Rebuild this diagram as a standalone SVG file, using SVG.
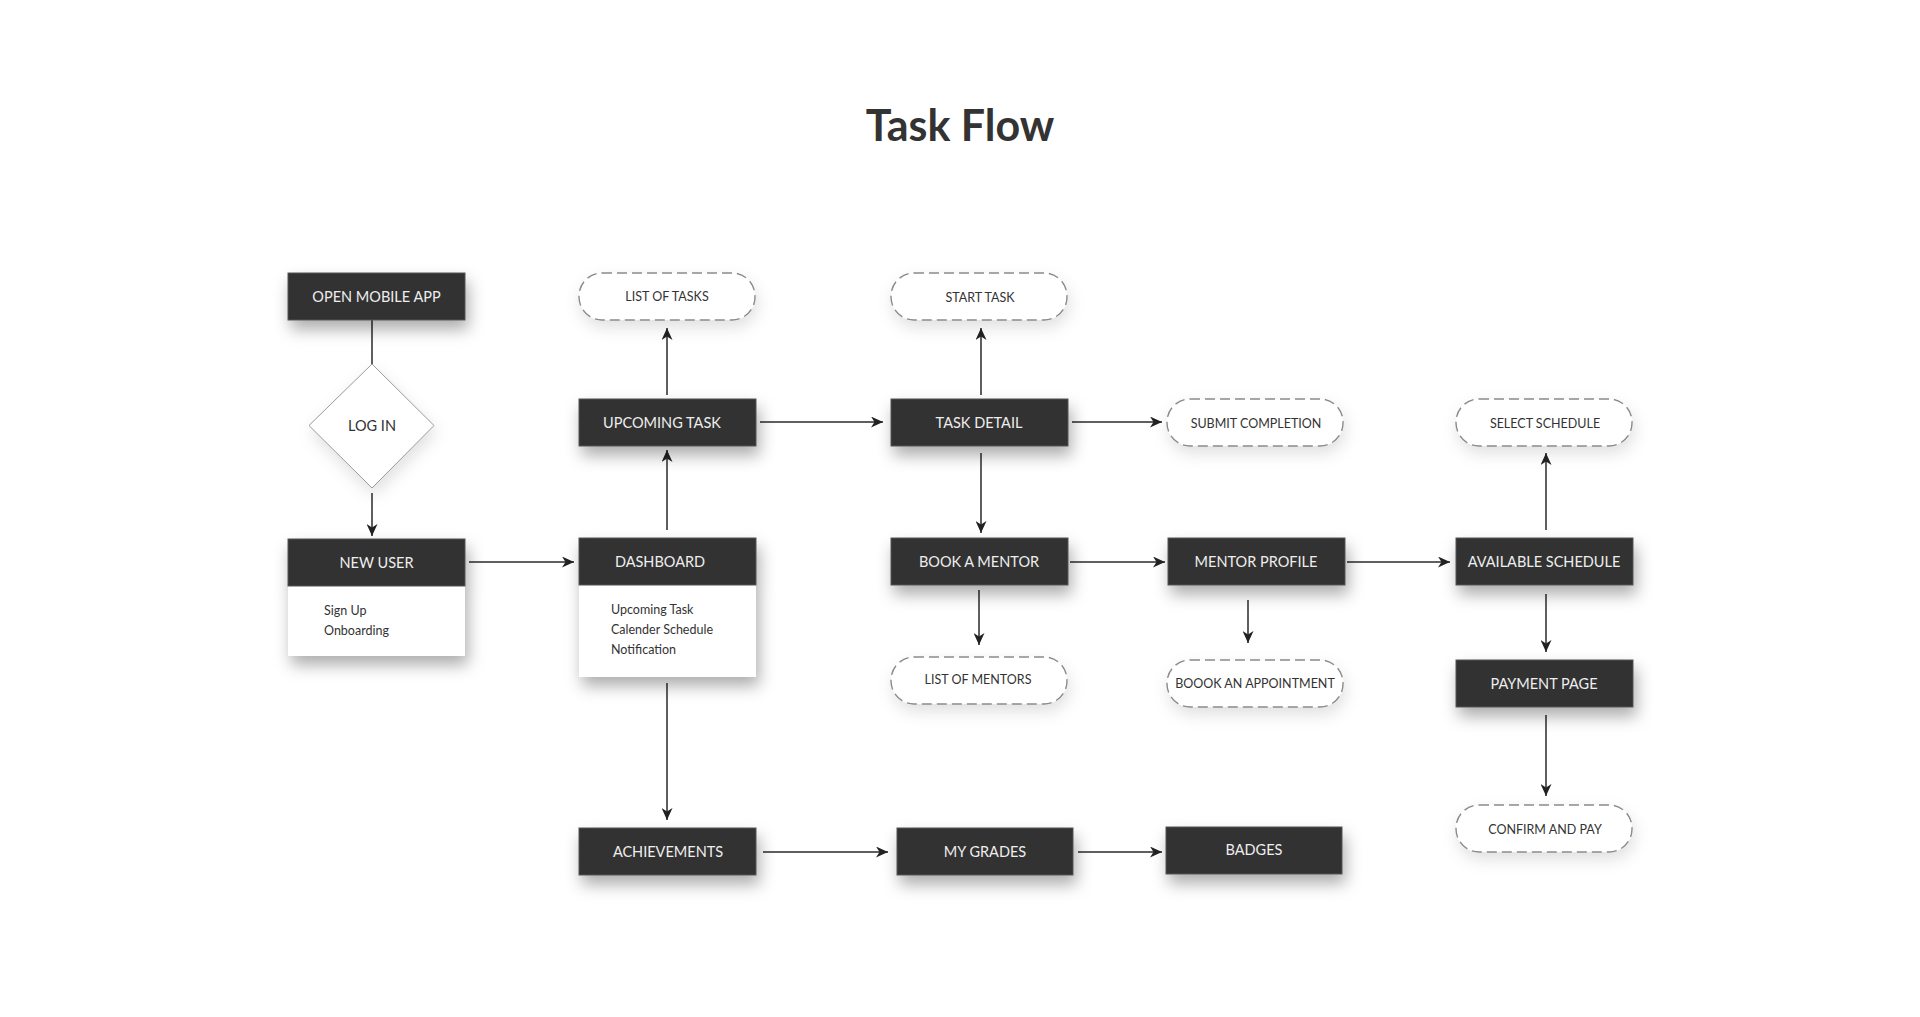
<svg xmlns="http://www.w3.org/2000/svg" width="1920" height="1017" viewBox="0 0 1920 1017">
<defs>
<filter id="sh" x="-30%" y="-40%" width="160%" height="200%">
<feDropShadow dx="3" dy="9" stdDeviation="8" flood-color="#000" flood-opacity="0.32"/>
</filter>
<filter id="shl" x="-30%" y="-40%" width="160%" height="200%">
<feDropShadow dx="2" dy="7" stdDeviation="8" flood-color="#000" flood-opacity="0.12"/>
</filter>
<marker id="ah" markerUnits="userSpaceOnUse" markerWidth="12" markerHeight="11" viewBox="0 0 12 11" refX="12" refY="5.5" orient="auto">
<path d="M0,0 L12,5.5 L0,11 L3.5,5.5 Z" fill="#222"/>
</marker>
<style>
.box{fill:#323232;stroke:#555;stroke-width:1}
.body{fill:#fff}
.pill{fill:#fff;stroke:#8a8a8a;stroke-width:1.4;stroke-dasharray:10 5}
.lbl{font-family:Lato,"Liberation Sans",sans-serif;font-size:14.5px;fill:#eeeeee;text-anchor:middle}
.plbl{font-family:Lato,"Liberation Sans",sans-serif;font-size:12.5px;fill:#333;text-anchor:middle}
.btxt{font-family:Lato,"Liberation Sans",sans-serif;font-size:12.5px;fill:#333}
.con{stroke:#2a2a2a;stroke-width:1.5;fill:none}
.arr{marker-end:url(#ah)}
</style>
</defs>
<rect width="1920" height="1017" fill="#fff"/>
<text x="960" y="141" font-family="Lato,'Liberation Sans',sans-serif" font-weight="700" font-size="43" fill="#333" text-anchor="middle">Task Flow</text>

<g id="connectors">
<line class="con" x1="372" y1="320" x2="372" y2="364"/>
<line class="con arr" x1="372" y1="493" x2="372" y2="536"/>
<line class="con arr" x1="469" y1="562" x2="574" y2="562"/>
<line class="con arr" x1="667" y1="530" x2="667" y2="450"/>
<line class="con arr" x1="667" y1="395" x2="667" y2="328"/>
<line class="con arr" x1="760" y1="422" x2="883" y2="422"/>
<line class="con arr" x1="981" y1="395" x2="981" y2="328"/>
<line class="con arr" x1="1072" y1="422" x2="1162" y2="422"/>
<line class="con arr" x1="981" y1="453" x2="981" y2="533"/>
<line class="con arr" x1="979" y1="590" x2="979" y2="645"/>
<line class="con arr" x1="1070" y1="562" x2="1165" y2="562"/>
<line class="con arr" x1="1248" y1="600" x2="1248" y2="643"/>
<line class="con arr" x1="1347" y1="562" x2="1450" y2="562"/>
<line class="con arr" x1="1546" y1="530" x2="1546" y2="453"/>
<line class="con arr" x1="1546" y1="594" x2="1546" y2="652"/>
<line class="con arr" x1="1546" y1="715" x2="1546" y2="796"/>
<line class="con arr" x1="667" y1="683" x2="667" y2="820"/>
<line class="con arr" x1="763" y1="852" x2="888" y2="852"/>
<line class="con arr" x1="1078" y1="852" x2="1162" y2="852"/>
</g>

<g id="open-mobile-app"><rect class="box" filter="url(#sh)" x="288" y="273" width="177" height="47"/><text class="lbl" x="376.5" y="301.5">OPEN MOBILE APP</text></g>
<g id="log-in"><polygon points="372,364 434,425.5 372,488 309,425.5" fill="#fff" stroke="#999" stroke-width="1" filter="url(#shl)"/><text class="plbl" style="font-size:14.5px" x="372" y="431">LOG IN</text></g>
<g id="new-user"><g filter="url(#sh)"><rect class="body" x="288" y="539" width="177" height="117"/><rect class="box" x="288" y="539" width="177" height="47"/></g><text class="lbl" x="376.5" y="567.5">NEW USER</text><text class="btxt" x="324" y="615">Sign Up</text><text class="btxt" x="324" y="635">Onboarding</text></g>
<g id="dashboard"><g filter="url(#sh)"><rect class="body" x="579" y="538" width="177" height="139"/><rect class="box" x="579" y="538" width="177" height="47"/></g><text class="lbl" x="660" y="566.5">DASHBOARD</text><text class="btxt" x="611" y="614">Upcoming Task</text><text class="btxt" x="611" y="634">Calender Schedule</text><text class="btxt" x="611" y="654">Notification</text></g>
<g id="upcoming-task"><rect class="box" filter="url(#sh)" x="579" y="399" width="177" height="47"/><text class="lbl" x="662" y="427.5">UPCOMING TASK</text></g>
<g id="task-detail"><rect class="box" filter="url(#sh)" x="891" y="399" width="177" height="47"/><text class="lbl" x="979" y="427.5">TASK DETAIL</text></g>
<g id="book-a-mentor"><rect class="box" filter="url(#sh)" x="891" y="538" width="177" height="47"/><text class="lbl" x="979" y="566.5">BOOK A MENTOR</text></g>
<g id="mentor-profile"><rect class="box" filter="url(#sh)" x="1168" y="538" width="177" height="47"/><text class="lbl" x="1256" y="566.5">MENTOR PROFILE</text></g>
<g id="available-schedule"><rect class="box" filter="url(#sh)" x="1456" y="538" width="177" height="47"/><text class="lbl" x="1544" y="566.5">AVAILABLE SCHEDULE</text></g>
<g id="payment-page"><rect class="box" filter="url(#sh)" x="1456" y="660" width="177" height="47"/><text class="lbl" x="1544" y="688.5">PAYMENT PAGE</text></g>
<g id="achievements"><rect class="box" filter="url(#sh)" x="579" y="828" width="177" height="47"/><text class="lbl" x="668" y="856.5">ACHIEVEMENTS</text></g>
<g id="my-grades"><rect class="box" filter="url(#sh)" x="897" y="828" width="176" height="47"/><text class="lbl" x="985" y="856.5">MY GRADES</text></g>
<g id="badges"><rect class="box" filter="url(#sh)" x="1166" y="827" width="176" height="47"/><text class="lbl" x="1254" y="855">BADGES</text></g>

<g id="list-of-tasks"><rect class="pill" filter="url(#shl)" x="579" y="273" width="176" height="47" rx="23"/><text class="plbl" x="667" y="301">LIST OF TASKS</text></g>
<g id="start-task"><rect class="pill" filter="url(#shl)" x="891" y="273" width="176" height="47" rx="23"/><text class="plbl" x="980" y="302">START TASK</text></g>
<g id="submit-completion"><rect class="pill" filter="url(#shl)" x="1167" y="399" width="176" height="47" rx="23"/><text class="plbl" x="1256" y="428">SUBMIT COMPLETION</text></g>
<g id="select-schedule"><rect class="pill" filter="url(#shl)" x="1456" y="399" width="176" height="47" rx="23"/><text class="plbl" x="1545" y="428">SELECT SCHEDULE</text></g>
<g id="list-of-mentors"><rect class="pill" filter="url(#shl)" x="891" y="657" width="176" height="47" rx="23"/><text class="plbl" x="978" y="684">LIST OF MENTORS</text></g>
<g id="boook-an-appointment"><rect class="pill" filter="url(#shl)" x="1167" y="660" width="176" height="47" rx="23"/><text class="plbl" x="1255" y="688">BOOOK AN APPOINTMENT</text></g>
<g id="confirm-and-pay"><rect class="pill" filter="url(#shl)" x="1456" y="805" width="176" height="47" rx="23"/><text class="plbl" x="1545" y="834">CONFIRM AND PAY</text></g>
</svg>
